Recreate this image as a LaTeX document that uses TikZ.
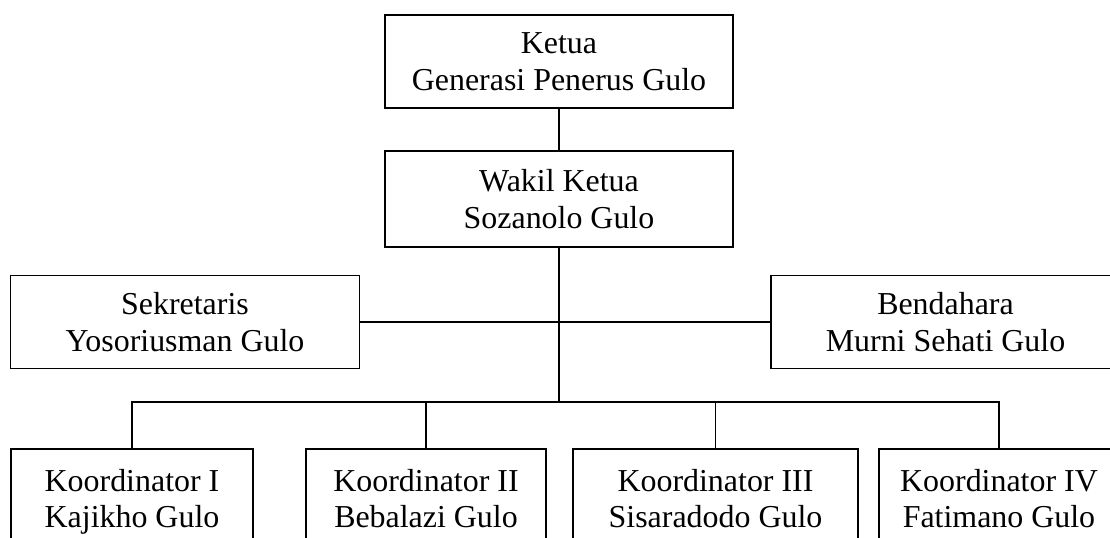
\documentclass[tikz,border=0pt]{standalone}
\usepackage{fontspec}
\setmainfont{Liberation Serif}
\usepackage{tikz}

\begin{document}
\begin{tikzpicture}[x=0.025cm, y=-0.025cm,
    jabatan/.style={draw, line width=1.3pt, align=center, inner sep=0pt,
      minimum height=2.325cm, text depth=0pt, font=\fontsize{22.7}{26}\selectfont},
    garis/.style={line width=0.9pt}]
    \useasboundingbox (0,0) rectangle (1110,538);
    \clip (0,0) rectangle (1110,538);
    % pengurus inti
    \node [jabatan, minimum width=8.7cm] (ketua) at (559, 61.5) {Ketua\\Generasi Penerus Gulo};
    \node [jabatan, minimum width=8.7cm, minimum height=2.4cm] (wakil) at (559, 199) {Wakil Ketua\\Sozanolo Gulo};
    \node [jabatan, minimum width=8.725cm] (sekretaris) at (185, 322) {Sekretaris\\Yosoriusman Gulo};
    \node [jabatan, minimum width=8.725cm] (bendahara) at (945.5, 322) {Bendahara\\Murni Sehati Gulo};
    % koordinator (terpotong di bawah)
    \node [jabatan, minimum width=6.05cm, minimum height=2.475cm] (koord1) at (132, 498.5) {Koordinator I\\Kajikho Gulo};
    \node [jabatan, minimum width=6cm, minimum height=2.475cm] (koord2) at (426, 498.5) {Koordinator II\\Bebalazi Gulo};
    \node [jabatan, minimum width=7.125cm, minimum height=2.475cm] (koord3) at (715.5, 498.5) {Koordinator III\\Sisaradodo Gulo};
    \node [jabatan, minimum width=6cm, minimum height=2.475cm] (koord4) at (999, 498.5) {Koordinator IV\\Fatimano Gulo};
    \coordinate (bus) at (559, 402);
    % garis
    \draw [garis] (ketua) -- (wakil);
    \draw [garis] (wakil) -- (bus);
    \draw [garis] (sekretaris) -- (bendahara);
    \draw [garis] (koord1.north) |- (bus) -| (koord4.north);
    \draw [garis] (koord2.north) -- (koord2.north |- bus);
    \draw [garis] (koord3.north) -- (koord3.north |- bus);
\end{tikzpicture}
\end{document}
